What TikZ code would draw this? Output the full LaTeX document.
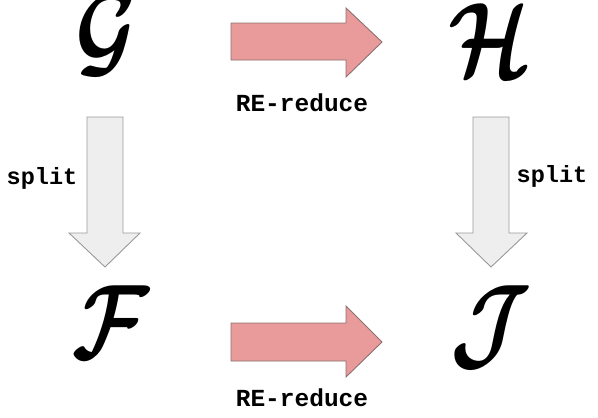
\documentclass[tikz,border=0pt]{standalone}
\usepackage{fontspec}
\newfontfamily\monob{Liberation Mono}
\usepackage{bm}
\definecolor{redfill}{HTML}{E99B9B}
\definecolor{redline}{HTML}{8A7070}
\definecolor{grayfill}{HTML}{EEEEEE}
\definecolor{grayline}{HTML}{999999}
\newcommand{\bigcal}[1]{\scalebox{8.4}[10.6]{$\bm{\mathcal{#1}}$}}
\tikzset{
  letter/.style={inner sep=0pt},
  redarrow/.style={fill=redfill, draw=redline, line width=0.9pt, line join=miter},
  grayarrow/.style={fill=grayfill, draw=grayline, line width=0.9pt, line join=miter},
  lbl/.style={inner sep=0pt, font=\monob\bfseries\fontsize{24.5}{24.5}\selectfont},
  slbl/.style={inner sep=0pt, font=\monob\bfseries\fontsize{23.5}{23.5}\selectfont}
}
\begin{document}
\begin{tikzpicture}[x=1pt,y=-1pt]
\useasboundingbox (0,0) rectangle (598,418);
% letters
\node[letter] (G) at (106,34) {\bigcal{G}};
\node[letter] (H) at (490,40) {\bigcal{H}};
\node[letter] (F) at (111,322) {\bigcal{F}};
\node[letter] (J) at (491,327) {\bigcal{J}};
% top red arrow
\draw[redarrow] (231,23) -- (346,23) -- (346,8) -- (382,42) -- (346,77) -- (346,60) -- (231,60) -- cycle;
\node[lbl] (t1) at (302,103) {RE-reduce};
% bottom red arrow
\draw[redarrow] (231,323) -- (346,323) -- (346,306) -- (382,342) -- (346,377) -- (346,361) -- (231,361) -- cycle;
\node[lbl] (t2) at (302,398) {RE-reduce};
% left gray arrow
\draw[grayarrow] (87,117) -- (123,117) -- (123,233) -- (140,233) -- (105,267) -- (69,233) -- (87,233) -- cycle;
\node[slbl] (s1) at (42,178) {split};
% right gray arrow
\draw[grayarrow] (473,117) -- (509,117) -- (509,233) -- (527,233) -- (491,267) -- (456,233) -- (473,233) -- cycle;
\node[slbl] (s2) at (552,176) {split};
\end{tikzpicture}
\end{document}
